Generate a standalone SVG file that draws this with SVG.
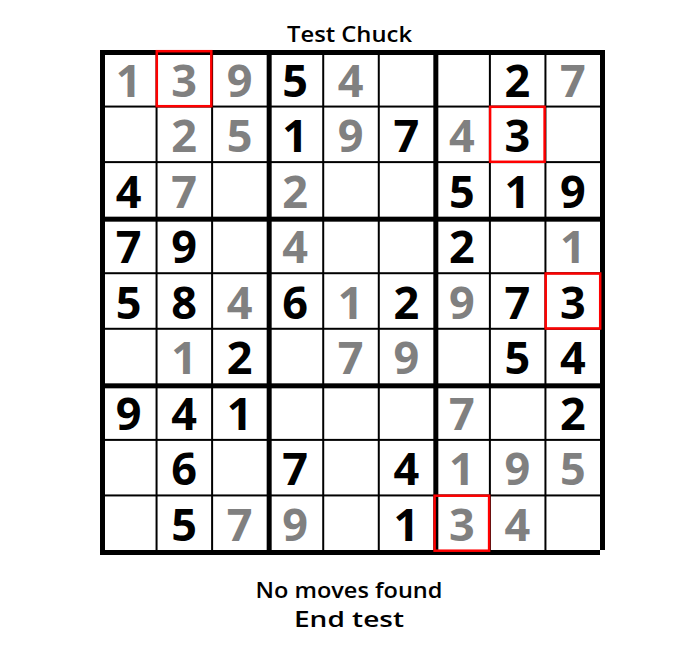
<svg xmlns="http://www.w3.org/2000/svg" width="700" height="650" viewBox="0 0 700 650">
<style>
.bg{fill:#ffffff}
.thin{fill:#000000}
.thick{fill:#000000}
.d{font-family:"Open Sans","DejaVu Sans",sans-serif;font-weight:bold;font-size:45px;text-anchor:middle}
.g{fill:#808080}
.k{fill:#000000}
.hl{fill:none;stroke:#ff0000;stroke-width:2.5}
.t{font-family:"Open Sans","DejaVu Sans",sans-serif;font-weight:600;font-size:22px;text-anchor:middle;fill:#000000}
</style>
<rect class="bg" x="0" y="0" width="700" height="650"/>
<text class="t" x="349.5" y="42" textLength="125" lengthAdjust="spacingAndGlyphs">Test Chuck</text>
<g id="grid">
<rect class="thin" x="155.56" y="50" width="2" height="500"/>
<rect class="thin" x="211.11" y="50" width="2" height="500"/>
<rect class="thin" x="322.22" y="50" width="2" height="500"/>
<rect class="thin" x="377.78" y="50" width="2" height="500"/>
<rect class="thin" x="488.89" y="50" width="2" height="500"/>
<rect class="thin" x="544.44" y="50" width="2" height="500"/>
<rect class="thin" x="100" y="105.56" width="500" height="2"/>
<rect class="thin" x="100" y="161.11" width="500" height="2"/>
<rect class="thin" x="100" y="272.22" width="500" height="2"/>
<rect class="thin" x="100" y="327.78" width="500" height="2"/>
<rect class="thin" x="100" y="438.89" width="500" height="2"/>
<rect class="thin" x="100" y="494.44" width="500" height="2"/>
<rect class="thick" x="266.67" y="50" width="5" height="500"/>
<rect class="thick" x="433.33" y="50" width="5" height="500"/>
<rect class="thick" x="100" y="216.67" width="500" height="5"/>
<rect class="thick" x="100" y="383.33" width="500" height="5"/>
<rect class="thick" x="100" y="50" width="505" height="5"/>
<rect class="thick" x="100" y="50" width="5" height="505"/>
<rect class="thick" x="600" y="50" width="5" height="500"/>
<rect class="thick" x="100" y="550" width="500" height="5"/>
</g>
<g id="highlights">
<rect class="hl" x="156.8" y="51.2" width="54.5" height="55"/>
<rect class="hl" x="490.1" y="106.8" width="54.5" height="55"/>
<rect class="hl" x="545.7" y="273.5" width="54.5" height="55"/>
<rect class="hl" x="434.6" y="495.7" width="54.5" height="55"/>
</g>
<g id="digits">
<g id="r0">
<text class="d g" x="128.5" y="96.5">1</text>
<text class="d g" x="184" y="96.5">3</text>
<text class="d g" x="239.6" y="96.5">9</text>
<text class="d k" x="295.2" y="96.5">5</text>
<text class="d g" x="350.7" y="96.5">4</text>
<text class="d k" x="517.4" y="96.5">2</text>
<text class="d g" x="572.9" y="96.5">7</text>
</g>
<g id="r1">
<text class="d g" x="184" y="152.1">2</text>
<text class="d g" x="239.6" y="152.1">5</text>
<text class="d k" x="295.2" y="152.1">1</text>
<text class="d g" x="350.7" y="152.1">9</text>
<text class="d k" x="406.3" y="152.1">7</text>
<text class="d g" x="461.8" y="152.1">4</text>
<text class="d k" x="517.4" y="152.1">3</text>
</g>
<g id="r2">
<text class="d k" x="128.5" y="207.6">4</text>
<text class="d g" x="184" y="207.6">7</text>
<text class="d g" x="295.2" y="207.6">2</text>
<text class="d k" x="461.8" y="207.6">5</text>
<text class="d k" x="517.4" y="207.6">1</text>
<text class="d k" x="572.9" y="207.6">9</text>
</g>
<g id="r3">
<text class="d k" x="128.5" y="263.2">7</text>
<text class="d k" x="184" y="263.2">9</text>
<text class="d g" x="295.2" y="263.2">4</text>
<text class="d k" x="461.8" y="263.2">2</text>
<text class="d g" x="572.9" y="263.2">1</text>
</g>
<g id="r4">
<text class="d k" x="128.5" y="318.7">5</text>
<text class="d k" x="184" y="318.7">8</text>
<text class="d g" x="239.6" y="318.7">4</text>
<text class="d k" x="295.2" y="318.7">6</text>
<text class="d g" x="350.7" y="318.7">1</text>
<text class="d k" x="406.3" y="318.7">2</text>
<text class="d g" x="461.8" y="318.7">9</text>
<text class="d k" x="517.4" y="318.7">7</text>
<text class="d k" x="572.9" y="318.7">3</text>
</g>
<g id="r5">
<text class="d g" x="184" y="374.3">1</text>
<text class="d k" x="239.6" y="374.3">2</text>
<text class="d g" x="350.7" y="374.3">7</text>
<text class="d g" x="406.3" y="374.3">9</text>
<text class="d k" x="517.4" y="374.3">5</text>
<text class="d k" x="572.9" y="374.3">4</text>
</g>
<g id="r6">
<text class="d k" x="128.5" y="429.8">9</text>
<text class="d k" x="184" y="429.8">4</text>
<text class="d k" x="239.6" y="429.8">1</text>
<text class="d g" x="461.8" y="429.8">7</text>
<text class="d k" x="572.9" y="429.8">2</text>
</g>
<g id="r7">
<text class="d k" x="184" y="485.4">6</text>
<text class="d k" x="295.2" y="485.4">7</text>
<text class="d k" x="406.3" y="485.4">4</text>
<text class="d g" x="461.8" y="485.4">1</text>
<text class="d g" x="517.4" y="485.4">9</text>
<text class="d g" x="572.9" y="485.4">5</text>
</g>
<g id="r8">
<text class="d k" x="184" y="540.9">5</text>
<text class="d g" x="239.6" y="540.9">7</text>
<text class="d g" x="295.2" y="540.9">9</text>
<text class="d k" x="406.3" y="540.9">1</text>
<text class="d g" x="461.8" y="540.9">3</text>
<text class="d g" x="517.4" y="540.9">4</text>
</g>
</g>
<text class="t" x="349" y="598" textLength="187" lengthAdjust="spacingAndGlyphs">No moves found</text>
<text class="t" x="349" y="627" textLength="110" lengthAdjust="spacingAndGlyphs">End test</text>
</svg>
